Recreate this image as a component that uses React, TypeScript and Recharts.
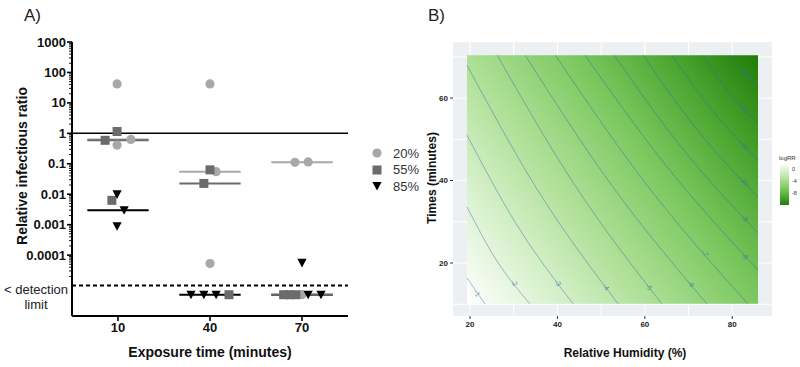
import React from 'react';
import { ScatterChart, Scatter, XAxis, YAxis, ReferenceLine, ReferenceArea, CartesianGrid } from 'recharts';

const FONT = '"Liberation Sans", Arial, Helvetica, sans-serif';

// ---- Panel A data ----
const BDL = 5e-6; // value used to plot samples below the detection limit
const DETECTION_LIMIT = 1e-5;
const TIMES = [10, 40, 70];
const HALF_WIDTH = 10;

const rh20 = [
  { x: 9.7, y: 42 }, { x: 9.7, y: 0.41 }, { x: 14.2, y: 0.63 },
  { x: 40, y: 42 }, { x: 42, y: 0.055 }, { x: 40, y: 5.3e-5 },
  { x: 67.7, y: 0.112 }, { x: 72, y: 0.115 }, { x: 70, y: BDL },
];
const rh55 = [
  { x: 9.7, y: 1.15 }, { x: 5.8, y: 0.59 }, { x: 8.0, y: 0.0063 },
  { x: 40, y: 0.063 }, { x: 38, y: 0.0226 }, { x: 46.2, y: BDL },
  { x: 64, y: BDL }, { x: 66, y: BDL }, { x: 68, y: BDL },
];
const rh85 = [
  { x: 9.7, y: 0.0099 }, { x: 12, y: 0.003 }, { x: 9.7, y: 0.00089 },
  { x: 33.8, y: BDL }, { x: 38, y: BDL }, { x: 42, y: BDL },
  { x: 70, y: 5.6e-5 }, { x: 72, y: BDL }, { x: 76.2, y: BDL },
];
const med20 = [0.63, 0.055, 0.112];
const med55 = [0.59, 0.0226, BDL];
const med85 = [0.003, BDL, BDL];

const MAJOR_TICKS = [0.0001, 0.001, 0.01, 0.1, 1, 10, 100, 1000];
const MAJOR_LABELS = ['0.0001', '0.001', '0.01', '0.1', '1', '10', '100', '1000'];
const LEGEND_A = ['20%', '55%', '85%'];

// ---- Panel B data ----
const HEAT_RECT = { x1: 19.3, x2: 85.9, y1: 10.1, y2: 70.4 };
const contours = [
  [{ x: 19.3, y: 16.4 }, { x: 23.4, y: 10.1 }],
  [{ x: 19.3, y: 33.6 }, { x: 25.8, y: 21.1 }, { x: 33.7, y: 10.1 }],
  [{ x: 19.3, y: 51.0 }, { x: 30.5, y: 29.6 }, { x: 43.6, y: 10.1 }],
  [{ x: 19.3, y: 68.0 }, { x: 35.4, y: 37.8 }, { x: 53.9, y: 10.1 }],
  [{ x: 26.2, y: 70.4 }, { x: 43.9, y: 39.0 }, { x: 63.9, y: 10.1 }],
  [{ x: 32.6, y: 70.4 }, { x: 52.3, y: 39.0 }, { x: 74.2, y: 10.1 }],
  [{ x: 39.5, y: 70.4 }, { x: 60.4, y: 39.0 }, { x: 83.6, y: 10.1 }],
  [{ x: 46.3, y: 70.4 }, { x: 65.1, y: 43.3 }, { x: 85.9, y: 18.3 }],
  [{ x: 53.0, y: 70.4 }, { x: 68.5, y: 47.9 }, { x: 85.9, y: 27.3 }],
  [{ x: 59.6, y: 70.4 }, { x: 71.9, y: 52.4 }, { x: 85.9, y: 36.0 }],
  [{ x: 66.2, y: 70.4 }, { x: 75.4, y: 57.0 }, { x: 85.9, y: 45.0 }],
  [{ x: 73.1, y: 70.4 }, { x: 79.0, y: 61.7 }, { x: 85.9, y: 53.9 }],
  [{ x: 79.5, y: 70.4 }, { x: 85.9, y: 62.7 }],
];
const contourLabels = [
  { x: 21.6, y: 12.7, text: '-1' },
  { x: 30.1, y: 15.2, text: '-2' },
  { x: 40.1, y: 15.2, text: '-3' },
  { x: 51.1, y: 14.2, text: '-4' },
  { x: 61.0, y: 14.2, text: '-5' },
  { x: 70.6, y: 14.9, text: '-6' },
  { x: 73.8, y: 22.4, text: '-7' },
  { x: 82.9, y: 21.7, text: '-8' },
  { x: 82.9, y: 30.9, text: '-9' },
  { x: 82.7, y: 39.9, text: '-10' },
  { x: 82.7, y: 48.6, text: '-11' },
  { x: 82.7, y: 57.6, text: '-12' },
  { x: 83.2, y: 66.1, text: '-13' },
];
const X_TICKS_B = [20, 40, 60, 80];
const Y_TICKS_B = [20, 40, 60];
const X_GRID_B = [20, 30, 40, 50, 60, 70, 80];
const Y_GRID_B = [10, 20, 30, 40, 50, 60, 70];
const LEGEND_B_TICKS = ['0', '-4', '-8'];

const GREEN_STOPS = [
  ['0%', '#ffffff'], ['20%', '#d6f0ca'], ['39%', '#addf95'],
  ['61%', '#7cc860'], ['80%', '#4fa834'], ['100%', '#1f7d08'],
];

const GREY20 = '#a8a8a8';
const GREY55 = '#6b6b6b';
const BLACK = '#000';
const A_AXIS_X = 72;

// minor log ticks between the labelled decades
const minorTicks: number[] = [];
for (let e = -5; e <= 2; e++) {
  for (let k = 2; k <= 9; k++) minorTicks.push(Number((k * Math.pow(10, e)).toPrecision(3)));
}
const allTicks = [...MAJOR_TICKS, ...minorTicks].sort((a, b) => a - b);

const LogTick = (props: any) => {
  const { y, payload } = props;
  const idx = MAJOR_TICKS.indexOf(payload.value);
  const major = idx >= 0;
  return (
    <g>
      <line x1={A_AXIS_X - (major ? 5 : 3)} x2={A_AXIS_X} y1={y} y2={y} stroke="#000" strokeWidth={major ? 1.6 : 0.9} />
      {major && (
        <text x={A_AXIS_X - 6} y={y} textAnchor="end" dominantBaseline="central" fontSize={13} fontWeight="bold" fill="#111" fontFamily={FONT}>
          {MAJOR_LABELS[idx]}
        </text>
      )}
    </g>
  );
};

const Circle = (p: any) => <circle cx={p.cx} cy={p.cy} r={4.6} fill={GREY20} />;
const Square = (p: any) => <rect x={p.cx - 4.5} y={p.cy - 4.5} width={9} height={9} fill={GREY55} />;
const TriDown = (p: any) => (
  <path d={`M${p.cx - 4.6},${p.cy - 4} L${p.cx + 4.6},${p.cy - 4} L${p.cx},${p.cy + 4.6} Z`} fill={BLACK} />
);

const medianLines = (meds: number[], color: string, key: string) =>
  TIMES.map((t, i) => (
    <ReferenceLine
      key={`${key}-${t}`}
      segment={[{ x: t - HALF_WIDTH, y: meds[i] }, { x: t + HALF_WIDTH, y: meds[i] }]}
      stroke={color}
      strokeWidth={2}
    />
  ));

const PanelA = () => (
  <ScatterChart width={400} height={367} margin={{ top: 42, right: 52, left: 12, bottom: 21 }}>
    <XAxis
      type="number"
      dataKey="x"
      domain={[-5, 85]}
      ticks={TIMES}
      allowDataOverflow
      height={30}
      axisLine={{ stroke: '#000', strokeWidth: 2 }}
      tickLine={{ stroke: '#000', strokeWidth: 1.6 }}
      tickSize={5}
      tick={{ fontSize: 13, fontWeight: 'bold', fill: '#111', fontFamily: FONT }}
    />
    <YAxis
      type="number"
      dataKey="y"
      scale="log"
      domain={[1e-6, 1000]}
      allowDataOverflow
      ticks={allTicks}
      interval={0}
      width={60}
      tick={<LogTick />}
      tickLine={false}
      axisLine={{ stroke: '#000', strokeWidth: 2 }}
    />
    <ReferenceLine y={1} stroke="#000" strokeWidth={1.5} />
    <ReferenceLine y={DETECTION_LIMIT} stroke="#000" strokeWidth={2} strokeDasharray="4 3" />
    {medianLines(med85, BLACK, 'm85')}
    {medianLines(med20, GREY20, 'm20')}
    {medianLines(med55, GREY55, 'm55')}
    <Scatter data={rh20} shape={Circle} isAnimationActive={false} />
    <Scatter data={rh55} shape={Square} isAnimationActive={false} />
    <Scatter data={rh85} shape={TriDown} isAnimationActive={false} />
  </ScatterChart>
);

const ContourLabel = (p: any) => (
  <text
    x={p.cx}
    y={p.cy}
    transform={`rotate(55 ${p.cx} ${p.cy})`}
    textAnchor="middle"
    dominantBaseline="central"
    fontSize={7}
    fill="#3a6fa8"
    fillOpacity={0.75}
    fontFamily={FONT}
  >
    {p.payload.text}
  </text>
);

const PanelB = () => (
  <ScatterChart width={400} height={367} margin={{ top: 42, right: 28, left: 13, bottom: 21 }}>
    <defs>
      <linearGradient id="heatB" x1="0" y1="1" x2="1.162" y2="0.253">
        {GREEN_STOPS.map(([o, c]) => <stop key={o} offset={o} stopColor={c} />)}
      </linearGradient>
    </defs>
    <CartesianGrid fill="#edf0f2" stroke="#ffffff" strokeWidth={1} verticalValues={X_GRID_B} horizontalValues={Y_GRID_B} />
    <XAxis
      type="number"
      dataKey="x"
      domain={[16.1, 89.1]}
      ticks={X_TICKS_B}
      allowDataOverflow
      height={30}
      axisLine={false}
      tickLine={{ stroke: '#333', strokeWidth: 1 }}
      tickSize={3}
      tick={{ fontSize: 8, fontWeight: 'bold', fill: '#222', fontFamily: FONT }}
    />
    <YAxis
      type="number"
      dataKey="y"
      domain={[7.15, 73.6]}
      ticks={Y_TICKS_B}
      allowDataOverflow
      width={40}
      axisLine={false}
      tickLine={{ stroke: '#333', strokeWidth: 1 }}
      tickSize={3}
      tick={{ fontSize: 8, fontWeight: 'bold', fill: '#222', fontFamily: FONT }}
    />
    <ReferenceArea {...HEAT_RECT} fill="url(#heatB)" fillOpacity={1} stroke="none" />
    {contours.map((c, i) => (
      <Scatter
        key={`c${i}`}
        data={c}
        line={{ stroke: '#2f63a8', strokeWidth: 0.8, strokeOpacity: 0.55 }}
        lineJointType="monotoneX"
        shape={() => <g />}
        isAnimationActive={false}
      />
    ))}
    <Scatter data={contourLabels} shape={ContourLabel} isAnimationActive={false} />
  </ScatterChart>
);

const Overlay = () => (
  <svg width={800} height={367} style={{ position: 'absolute', left: 0, top: 0, pointerEvents: 'none' }} fontFamily={FONT}>
    <defs>
      <linearGradient id="barB" x1="0" y1="0" x2="0" y2="1">
        {GREEN_STOPS.map(([o, c]) => <stop key={o} offset={o} stopColor={c} />)}
      </linearGradient>
    </defs>
    <text x={24} y={21} fontSize={17} fill="#222">A)</text>
    <text x={428} y={21} fontSize={17} fill="#222">B)</text>
    <text transform="translate(22,166) rotate(-90)" textAnchor="middle" dominantBaseline="central" fontSize={14} fontWeight="bold" fill="#111">
      Relative infectious ratio
    </text>
    <text x={36} y={294} textAnchor="middle" fontSize={13} fill="#222">&lt; detection</text>
    <text x={36} y={309} textAnchor="middle" fontSize={13} fill="#222">limit</text>
    <text x={210} y={357} textAnchor="middle" fontSize={14} fontWeight="bold" fill="#111">Exposure time (minutes)</text>
    {/* legend A */}
    <circle cx={377} cy={153} r={4.6} fill={GREY20} />
    <rect x={372.5} y={165.5} width={9} height={9} fill={GREY55} />
    <path d="M372.4,182 L381.6,182 L377,190.6 Z" fill={BLACK} />
    {LEGEND_A.map((t, i) => (
      <text key={t} x={393} y={153 + i * 16.5} dominantBaseline="central" fontSize={13} fill="#333">{t}</text>
    ))}
    {/* panel B titles */}
    <text transform="translate(432,178) rotate(-90)" textAnchor="middle" dominantBaseline="central" fontSize={12} fontWeight="bold" fill="#111">
      Times (minutes)
    </text>
    <text x={625} y={357} textAnchor="middle" fontSize={12} fontWeight="bold" fill="#111">Relative Humidity (%)</text>
    {/* legend B */}
    <text x={779} y={160} fontSize={6} fill="#333">logRR</text>
    <rect x={780} y={163} width={9} height={42} fill="url(#barB)" />
    {LEGEND_B_TICKS.map((t, i) => (
      <text key={t} x={792} y={169 + i * 12} dominantBaseline="central" fontSize={5.5} fill="#333">{t}</text>
    ))}
  </svg>
);

export default function App() {
  return (
    <div style={{ position: 'absolute', left: 0, top: 0, width: 800, height: 367, background: '#fff', fontFamily: FONT, overflow: 'hidden' }}>
      <div style={{ position: 'absolute', left: 0, top: 0 }}>
        <PanelA />
      </div>
      <div style={{ position: 'absolute', left: 400, top: 0 }}>
        <PanelB />
      </div>
      <Overlay />
    </div>
  );
}
